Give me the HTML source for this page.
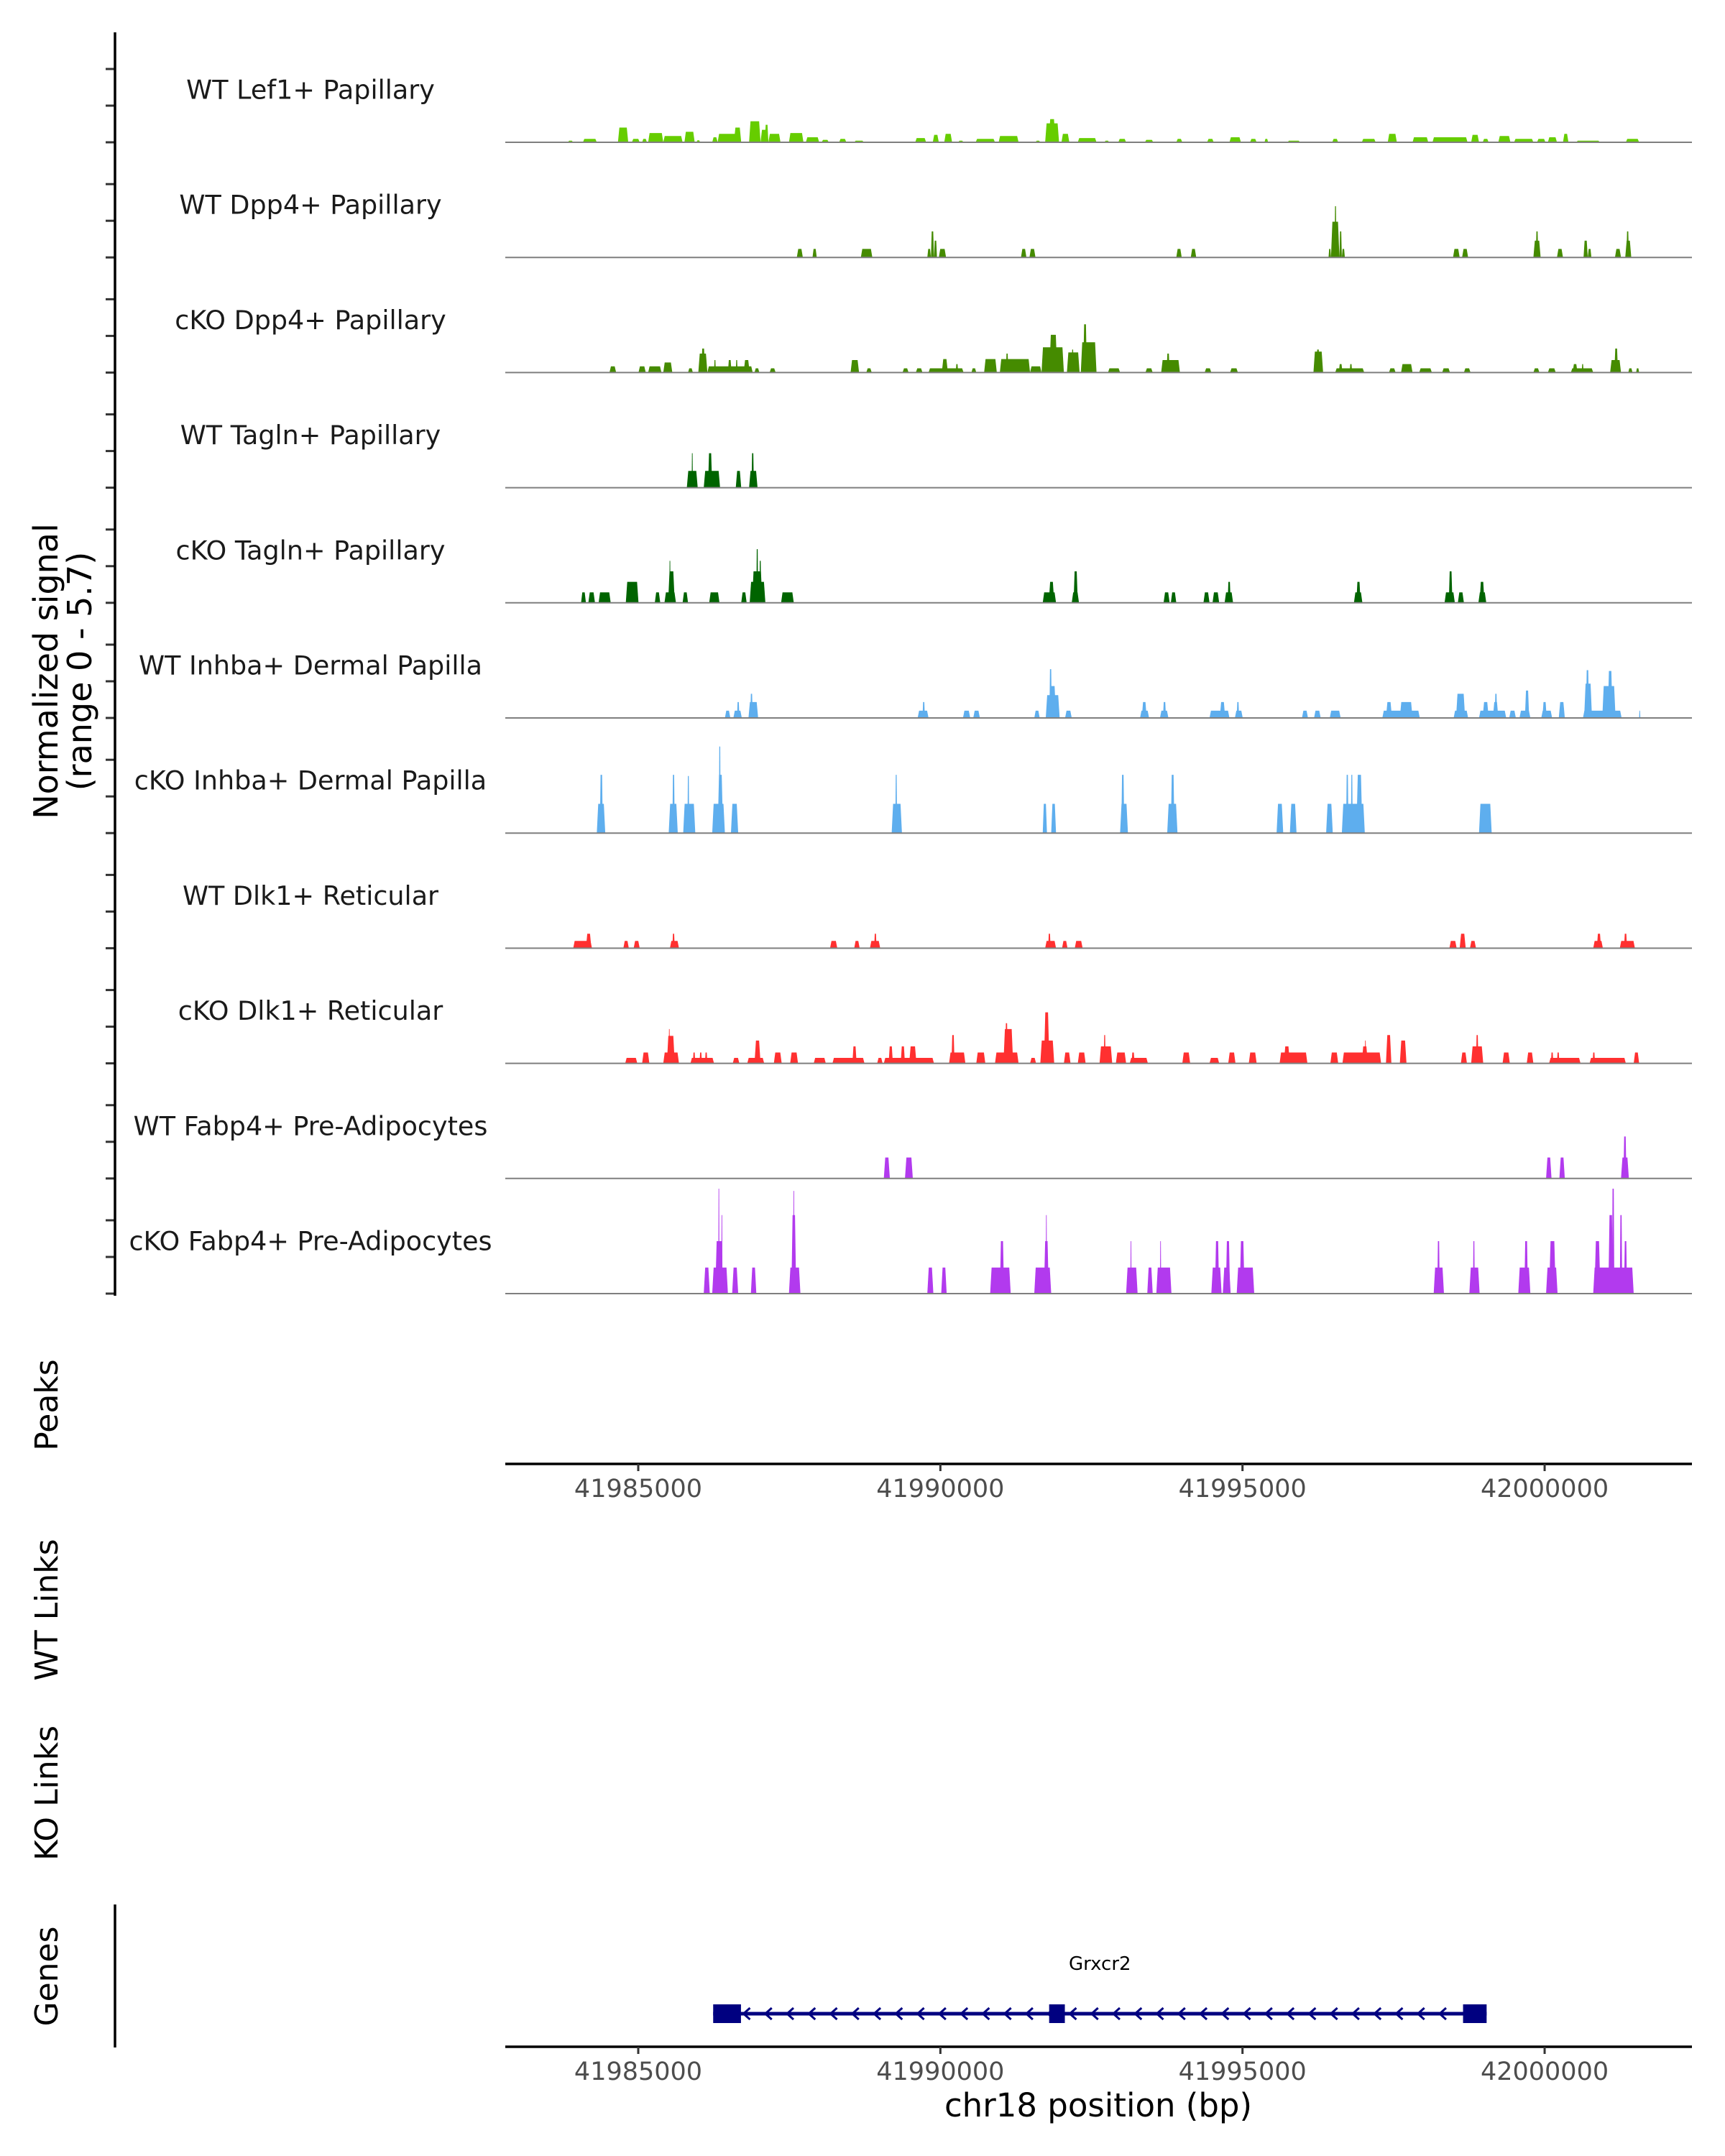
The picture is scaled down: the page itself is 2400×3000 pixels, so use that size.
<!DOCTYPE html>
<html><head><meta charset="utf-8"><style>
html,body{margin:0;padding:0;background:#fff;}
svg{display:block;font-family:"DejaVu Sans","Liberation Sans",sans-serif;}
</style></head><body>
<svg id="chart" width="2400" height="3000" viewBox="0 0 2400 3000" xmlns="http://www.w3.org/2000/svg">
<rect width="2400" height="3000" fill="#fff"/>
<g id="tracks"></g>
<g id="yaxis"></g>
<text transform="translate(80,934) rotate(-90)" text-anchor="middle" font-size="46" fill="#000">Normalized signal</text>
<text transform="translate(127,934) rotate(-90)" text-anchor="middle" font-size="46" fill="#000">(range 0 - 5.7)</text>
<text transform="translate(80,1955) rotate(-90)" text-anchor="middle" font-size="44">Peaks</text>
<text transform="translate(80,2240) rotate(-90)" text-anchor="middle" font-size="44">WT Links</text>
<text transform="translate(80,2495) rotate(-90)" text-anchor="middle" font-size="44">KO Links</text>
<text transform="translate(80,2750) rotate(-90)" text-anchor="middle" font-size="44">Genes</text>
<line x1="160" y1="2650" x2="160" y2="2849" stroke="#000" stroke-width="3.5"/>
<g id="xaxes"></g>
<g id="gene"></g>
<text x="1528" y="2945" text-anchor="middle" font-size="45">chr18 position (bp)</text>
</svg>
<script>
// region / scales
const regionStartBp = 41982764;
const xTickValues = [41985000, 41990000, 41995000, 42000000];
const xTickLabels = ["41985000", "41990000", "41995000", "42000000"];
const yMax = 5.7;
const trackNames = ["WT Lef1+ Papillary","WT Dpp4+ Papillary","cKO Dpp4+ Papillary","WT Tagln+ Papillary","cKO Tagln+ Papillary","WT Inhba+ Dermal Papilla","cKO Inhba+ Dermal Papilla","WT Dlk1+ Reticular","cKO Dlk1+ Reticular","WT Fabp4+ Pre-Adipocytes","cKO Fabp4+ Pre-Adipocytes"];
const trackColors = ["#66cd00","#458b00","#458b00","#006400","#006400","#5eaeee","#5eaeee","#ff3030","#ff3030","#b23aee","#b23aee"];
// peak segments: [start kb offset from region start, end kb offset, signal]
const lef1WT = [[1.07,1.16,.08],[1.32,1.55,.17],[1.90,2.07,.73],[2.13,2.26,.17],[2.30,2.38,.17],[2.40,2.65,.46],[2.65,2.97,.31],[3.00,3.17,.52],[3.20,3.26,.10],[3.46,3.55,.25],[3.55,3.88,.42],[3.82,3.94,.73],[4.07,4.26,1.04],[4.26,4.39,.62],[4.33,4.39,.87],[4.39,4.59,.42],[4.73,4.97,.46],[5.01,5.23,.25],[5.27,5.39,.12],[5.56,5.68,.17],[5.81,5.97,.08],[6.82,7.00,.21],[7.11,7.21,.37],[7.30,7.43,.42],[7.53,7.62,.08],[7.82,8.14,.17],[8.20,8.53,.31],[8.81,8.89,.08],[8.97,9.20,.94],[9.03,9.14,1.15],[9.24,9.37,.42],[9.51,9.82,.21],[9.95,10.03,.08],[10.18,10.31,.17],[10.62,10.76,.12],[11.14,11.24,.17],[11.65,11.76,.17],[12.02,12.21,.25],[12.36,12.47,.17],[12.60,12.66,.17],[12.98,13.19,.08],[13.72,13.82,.17],[14.21,14.44,.17],[14.64,14.79,.42],[15.05,15.31,.25],[15.38,15.96,.25],[16.02,16.15,.37],[16.21,16.31,.17],[16.47,16.67,.31],[16.73,17.05,.17],[17.11,17.25,.17],[17.29,17.44,.25],[17.54,17.63,.42],[17.76,18.15,.08],[18.58,18.80,.17]];
const dpp4WT = [[4.86,4.96,.42],[5.12,5.19,.42],[5.92,6.11,.42],[7.02,7.08,.42],[7.08,7.13,1.29],[7.13,7.18,.83],[7.21,7.33,.42],[8.57,8.66,.42],[8.71,8.81,.42],[11.14,11.23,.42],[11.38,11.47,.42],[13.66,13.70,.42],[13.70,13.84,1.77],[13.76,13.79,2.54],[13.84,13.88,1.29],[13.88,13.93,.42],[15.72,15.83,.42],[15.87,15.97,.42],[17.05,17.17,.83],[17.09,17.13,1.29],[17.44,17.54,.42],[17.88,17.95,.83],[17.95,18.01,.42],[18.40,18.50,.42],[18.57,18.67,.83],[18.59,18.63,1.29]];
const dpp4KO = [[1.76,1.87,.31],[2.24,2.36,.31],[2.40,2.62,.31],[2.65,2.80,.50],[3.06,3.14,.21],[3.23,3.38,.94],[3.28,3.34,1.19],[3.38,4.13,.31],[3.49,3.52,.62],[3.72,3.78,.62],[3.85,3.88,.62],[3.98,4.08,.62],[4.16,4.24,.21],[4.41,4.51,.21],[5.75,5.89,.62],[6.01,6.10,.21],[6.61,6.71,.21],[6.83,6.94,.21],[7.04,7.62,.21],[7.26,7.36,.67],[7.49,7.53,.42],[7.75,7.83,.21],[7.96,8.17,.67],[8.22,8.72,.67],[8.32,8.36,.94],[8.72,8.91,.31],[8.91,9.28,1.25],[9.04,9.17,1.87],[9.33,9.54,1.00],[9.41,9.44,1.14],[9.56,9.82,1.50],[9.60,9.66,2.39],[10.01,10.21,.21],[10.63,10.75,.21],[10.89,11.20,.62],[10.98,11.03,.94],[11.61,11.72,.21],[12.03,12.16,.21],[13.41,13.57,1.04],[13.46,13.51,1.14],[13.77,14.25,.21],[13.83,13.89,.42],[14.01,14.05,.42],[14.66,14.77,.21],[14.86,15.05,.42],[15.16,15.37,.21],[15.54,15.67,.21],[15.90,16.01,.21],[17.05,17.15,.21],[17.29,17.42,.21],[17.67,18.04,.21],[17.70,17.78,.42],[17.85,17.88,.42],[18.32,18.50,.62],[18.39,18.45,1.19],[18.62,18.69,.21],[18.75,18.80,.21]];
const taglnWT = [[3.04,3.22,.83],[3.12,3.14,1.71],[3.32,3.59,.83],[3.39,3.46,1.71],[3.85,3.94,.83],[4.07,4.21,.83],[4.11,4.15,1.71]];
const taglnKO = [[1.29,1.37,.52],[1.41,1.52,.52],[1.58,1.78,.52],[2.03,2.24,1.04],[2.51,2.60,.52],[2.67,2.86,.52],[2.73,2.84,1.56],[2.75,2.77,2.08],[2.97,3.06,.52],[3.41,3.58,.52],[3.94,4.03,.52],[4.08,4.34,1.04],[4.12,4.29,1.56],[4.19,4.22,2.66],[4.24,4.27,2.08],[4.60,4.81,.52],[8.93,9.15,.52],[9.03,9.12,1.04],[9.41,9.53,.52],[9.44,9.51,1.56],[10.93,11.03,.52],[11.05,11.14,.52],[11.59,11.69,.52],[11.74,11.85,.52],[11.94,12.08,.52],[11.99,12.04,1.04],[14.08,14.22,.52],[14.12,14.19,1.04],[15.58,15.75,.52],[15.65,15.71,1.56],[15.80,15.90,.52],[16.14,16.27,.52],[16.16,16.24,1.04]];
const inhbaWT = [[3.67,3.76,.36],[3.81,3.95,.36],[3.87,3.91,.79],[4.06,4.22,.79],[4.09,4.13,1.20],[6.86,7.04,.36],[6.94,6.98,.79],[7.61,7.73,.36],[7.78,7.89,.36],[8.79,8.88,.36],[8.98,9.21,1.13],[9.03,9.15,1.58],[9.04,9.08,2.42],[9.30,9.41,.36],[10.54,10.69,.36],[10.57,10.65,.79],[10.87,11.01,.36],[10.92,10.97,.79],[11.69,12.02,.36],[11.86,11.95,.79],[12.11,12.24,.36],[12.14,12.18,.79],[13.22,13.32,.36],[13.42,13.53,.36],[13.68,13.86,.36],[14.55,15.17,.36],[14.61,14.71,.79],[14.84,15.05,.79],[15.73,15.97,.36],[15.77,15.92,1.20],[16.15,16.60,.36],[16.21,16.31,.79],[16.38,16.47,.79],[16.41,16.45,1.20],[16.65,16.76,.36],[16.82,17.00,.36],[16.91,16.98,1.36],[17.18,17.36,.36],[17.20,17.27,.79],[17.47,17.57,.79],[17.87,18.51,.36],[17.89,18.02,1.70],[17.92,17.97,2.37],[18.19,18.41,1.58],[18.28,18.36,2.33],[18.80,18.82,.36]];
const inhbaKO = [[1.55,1.69,1.45],[1.60,1.65,2.89],[2.74,2.89,1.45],[2.80,2.84,2.89],[2.98,3.18,1.45],[3.05,3.08,2.83],[3.46,3.67,1.45],[3.55,3.64,2.89],[3.57,3.60,4.29],[3.77,3.89,1.45],[6.43,6.60,1.45],[6.49,6.52,2.89],[8.93,9.00,1.45],[9.07,9.15,1.45],[10.21,10.34,1.45],[10.23,10.28,2.89],[10.99,11.16,1.45],[11.05,11.11,2.89],[12.80,12.91,1.45],[13.02,13.13,1.45],[13.62,13.73,1.45],[13.88,14.26,1.45],[13.95,13.99,2.89],[14.03,14.06,2.89],[14.12,14.22,2.89],[16.15,16.36,1.45]];
const dlk1WT = [[1.16,1.47,.36],[1.37,1.46,.72],[1.99,2.08,.36],[2.16,2.26,.36],[2.76,2.91,.36],[2.80,2.84,.72],[5.41,5.53,.36],[5.81,5.90,.36],[6.07,6.24,.36],[6.14,6.18,.72],[8.97,9.15,.36],[9.02,9.06,.72],[9.25,9.34,.36],[9.46,9.59,.36],[15.66,15.78,.36],[15.83,15.93,.72],[16.00,16.10,.36],[18.04,18.20,.36],[18.10,18.17,.72],[18.48,18.73,.36],[18.55,18.60,.72]];
const dlk1KO = [[2.02,2.22,.27],[2.30,2.42,.54],[2.65,2.91,.54],[2.71,2.84,1.36],[2.74,2.76,1.70],[3.10,3.49,.27],[3.14,3.18,.54],[3.25,3.29,.54],[3.34,3.38,.54],[3.80,3.91,.27],[4.04,4.32,.27],[4.16,4.26,1.13],[4.48,4.61,.54],[4.75,4.88,.54],[5.14,5.34,.27],[5.45,5.98,.27],[5.78,5.85,.84],[6.19,6.28,.27],[6.30,7.13,.27],[6.38,6.45,.84],[6.58,6.65,.84],[6.72,6.84,.84],[7.38,7.65,.54],[7.42,7.47,1.40],[7.83,7.98,.54],[8.14,8.53,.54],[8.28,8.44,1.70],[8.31,8.35,1.99],[8.72,8.82,.27],[8.89,9.12,1.13],[8.95,9.04,2.53],[9.28,9.39,.54],[9.51,9.64,.54],[9.87,10.08,.84],[9.94,9.97,1.40],[10.14,10.31,.54],[10.37,10.67,.27],[10.40,10.45,.54],[11.24,11.37,.54],[11.69,11.85,.27],[12.00,12.12,.54],[12.34,12.47,.54],[12.85,13.31,.54],[12.92,13.02,.84],[13.69,13.82,.54],[13.89,14.53,.54],[14.21,14.31,.84],[14.26,14.28,1.13],[14.61,14.70,1.40],[14.84,14.95,1.13],[15.85,15.95,.54],[16.02,16.22,.84],[16.10,16.14,1.40],[16.54,16.66,.54],[16.94,17.05,.54],[17.31,17.83,.27],[17.34,17.38,.54],[17.44,17.48,.54],[17.98,18.58,.27],[18.03,18.07,.54],[18.71,18.80,.54]];
const fabp4WT = [[6.30,6.40,1.04],[6.65,6.78,1.04],[17.26,17.35,1.04],[17.48,17.57,1.04],[18.50,18.63,1.04],[18.54,18.59,2.08]];
const fabp4KO = [[3.32,3.42,1.29],[3.46,3.72,1.29],[3.51,3.64,2.60],[3.56,3.58,5.20],[3.61,3.63,3.89],[3.79,3.89,1.29],[4.10,4.19,1.29],[4.73,4.92,1.29],[4.77,4.85,3.89],[4.80,4.82,5.09],[7.02,7.12,1.29],[7.25,7.34,1.29],[8.06,8.40,1.29],[8.22,8.29,2.60],[8.79,9.07,1.29],[8.95,9.03,2.60],[8.98,9.00,3.89],[10.31,10.50,1.29],[10.38,10.40,2.60],[10.66,10.75,1.29],[10.81,11.06,1.29],[10.87,10.89,2.60],[11.72,11.89,1.29],[11.78,11.85,2.60],[11.91,12.04,1.29],[11.96,12.03,2.60],[12.14,12.43,1.29],[12.19,12.27,2.60],[15.40,15.57,1.29],[15.46,15.50,2.60],[15.99,16.16,1.29],[16.05,16.08,2.60],[16.80,17.00,1.29],[16.90,16.96,2.60],[17.26,17.45,1.29],[17.31,17.42,2.60],[18.04,18.71,1.29],[18.06,18.16,2.60],[18.29,18.37,3.89],[18.35,18.39,5.20],[18.48,18.52,3.89],[18.55,18.60,2.60]];
const trackData = [lef1WT,dpp4WT,dpp4KO,taglnWT,taglnKO,inhbaWT,inhbaKO,dlk1WT,dlk1KO,fabp4WT,fabp4KO];
// gene model (bp)
const geneName = "Grxcr2";
const geneStart = 41986240;
const geneEnd = 41999040;
const exonStarts = [41986240, 41991800, 41998650];
const exonEnds = [41986700, 41992060, 41999040];

const NS = "http://www.w3.org/2000/svg";
const trackLeft = 703, trackRight = 2354;
const baseline0 = 198, trackStep = 160.2, trackPx = 160;
function xBp(bp){ return 888 + (bp - 41985000) * 0.08407; }
function xOff(kb){ return xBp(regionStartBp + kb * 1000); }
function yVal(v, base){ return base - v / yMax * trackPx; }
function mk(tag, attrs, parent){ const e=document.createElementNS(NS,tag); for(const k in attrs) e.setAttribute(k,attrs[k]); parent.appendChild(e); return e; }

const gT = document.getElementById('tracks');
const gY = document.getElementById('yaxis');
trackNames.forEach((name,i)=>{
  const base = baseline0 + i*trackStep;
  const g = mk('g',{},gT);
  
  
  trackData[i].forEach(seg=>{
    const x0 = xOff(seg[0]), x1 = xOff(seg[1]);
    const y = yVal(seg[2], base);
    const s = Math.min(2, (x1-x0)/4);
    const p = mk('polygon',{points:`${x0},${base} ${x0+s},${y} ${x1-s},${y} ${x1},${base}`,fill:trackColors[i]},g);
    
    
  });
  const bl = mk('line',{x1:trackLeft,y1:base,x2:trackRight,y2:base,stroke:'#7f7f7f','stroke-width':2},g);
  
  
  const t = mk('text',{x:432,y:base-71,'text-anchor':'middle','dominant-baseline':'middle','font-size':36.5,fill:'#1a1a1a'},g);
  t.textContent = name;
  
  
  [0, 51, 102].forEach(d=>{
    const tk = mk('line',{x1:147,y1:base-d,x2:160,y2:base-d,stroke:'#333','stroke-width':3},gY);
    
    
  });
});
const ax = mk('line',{x1:160,y1:45,x2:160,y2:1803,stroke:'#000','stroke-width':3.5},gY);



const gX = document.getElementById('xaxes');
[2037, 2848].forEach((yA, ai)=>{
  const l = mk('line',{x1:trackLeft,y1:yA,x2:trackRight,y2:yA,stroke:'#000','stroke-width':3.5},gX);
  
  
  xTickValues.forEach((v,j)=>{
    const x = xBp(v);
    const tk = mk('line',{x1:x,y1:yA,x2:x,y2:yA+10,stroke:'#333','stroke-width':3},gX);
    
    
    const tl = mk('text',{x:x,y:yA+46,'text-anchor':'middle','font-size':35,fill:'#4d4d4d'},gX);
    tl.textContent = xTickLabels[j];
    
    
  });
});

const gG = document.getElementById('gene');
const gy = 2802;
const gl = mk('line',{x1:xBp(geneStart),y1:gy,x2:xBp(geneEnd),y2:gy,stroke:'#000080','stroke-width':5},gG);


for(let bp = geneStart + 550; bp < geneEnd - 400; bp += 360){
  const x = xBp(bp);
  const c = mk('polyline',{points:`${x+5},${gy-8} ${x-4},${gy} ${x+5},${gy+8}`,fill:'none',stroke:'#000080','stroke-width':3},gG);
  
  
}
exonStarts.forEach((s,k)=>{
  const x0 = xBp(s), x1 = xBp(exonEnds[k]);
  const r = mk('rect',{x:x0,y:gy-13,width:x1-x0,height:26,fill:'#000080'},gG);
  
  
});
const gn = mk('text',{x:(xBp(geneStart)+xBp(geneEnd))/2,y:2741,'text-anchor':'middle','font-size':26,fill:'#000'},gG);
gn.textContent = geneName;


</script>
</body></html>
